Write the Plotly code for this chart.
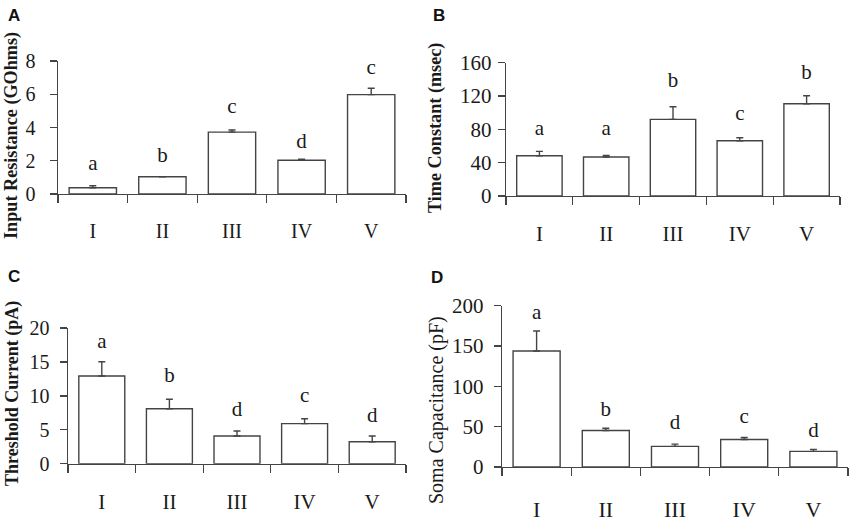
import plotly.graph_objects as go

categories = ["I", "II", "III", "IV", "V"]

# Panel A: Input Resistance (GOhms)
a_values = [0.38, 1.04, 3.72, 2.03, 5.98]
a_errors = [0.12, 0.0, 0.13, 0.06, 0.38]
a_letters = ["a", "b", "c", "d", "c"]
a_letter_y = [1.76, 2.26, 5.16, 3.06, 7.56]

# Panel B: Time Constant (msec)
b_values = [48.4, 46.8, 92.0, 66.4, 110.8]
b_errors = [5.2, 2.0, 15.2, 3.6, 9.6]
b_letters = ["a", "a", "b", "c", "b"]
b_letter_y = [79, 79, 137, 97, 147]

# Panel C: Threshold Current (pA)
c_values = [12.92, 8.1, 4.08, 5.9, 3.24]
c_errors = [2.1, 1.4, 0.75, 0.73, 0.84]
c_letters = ["a", "b", "d", "c", "d"]
c_letter_y = [17.9, 12.8, 7.8, 9.9, 6.9]

# Panel D: Soma Capacitance (pF)
d_values = [143.7, 45.2, 25.5, 34.1, 19.3]
d_errors = [24.7, 2.8, 2.8, 2.4, 2.5]
d_letters = ["a", "b", "d", "c", "d"]
d_letter_y = [190, 70, 53, 61, 44]

W, H = 850, 524
LINE = "#444444"
TXT = "#1a1a1a"
SERIF = "Liberation Serif"
SANS = "Liberation Sans"

panels = [
    dict(v=a_values, e=a_errors, l=a_letters, ly=a_letter_y, yr=[0, 8], dt=2,
         xpx=(58, 406), ypx=(61, 194), title="Input Resistance (GOhms)", tbold=True,
         tpos=(11, 136), tsize=18.2, lab="A", lpos=(6, 4), tfs=20, xfs=20, xlen=19, std=10),
    dict(v=b_values, e=b_errors, l=b_letters, ly=b_letter_y, yr=[0, 160], dt=40,
         xpx=(506, 840), ypx=(62.7, 196), title="Time Constant (msec)", tbold=True,
         tpos=(436, 128), tsize=18.2, lab="B", lpos=(431, 4), tfs=21, xfs=21, xlen=18, std=2),
    dict(v=c_values, e=c_errors, l=c_letters, ly=c_letter_y, yr=[0, 20], dt=5,
         xpx=(68, 406), ypx=(328, 463.7), title="Threshold Current (pA)", tbold=True,
         tpos=(12, 394), tsize=18, lab="C", lpos=(6, 265), tfs=20, xfs=21, xlen=19, std=6),
    dict(v=d_values, e=d_errors, l=d_letters, ly=d_letter_y, yr=[0, 200], dt=50,
         xpx=(502, 848), ypx=(305.5, 467), title="Soma Capacitance (pF)", tbold=False,
         tpos=(436, 410), tsize=20, lab="D", lpos=(429, 266), tfs=21, xfs=22, xlen=22, std=6),
]

fig = go.Figure()
layout = {}
annotations = []

for i, p in enumerate(panels, start=1):
    xa = "x" if i == 1 else f"x{i}"
    ya = "y" if i == 1 else f"y{i}"
    xkey = "xaxis" if i == 1 else f"xaxis{i}"
    ykey = "yaxis" if i == 1 else f"yaxis{i}"

    fig.add_trace(go.Bar(
        x=list(range(len(categories))), y=p["v"], width=0.68,
        marker=dict(color="white", line=dict(color=LINE, width=1.4)),
        error_y=dict(type="data", symmetric=False, array=p["e"],
                     arrayminus=[0] * len(p["e"]), color=LINE, thickness=1.4, width=3.5),
        xaxis=xa, yaxis=ya, showlegend=False, hoverinfo="skip",
    ))
    fig.add_trace(go.Scatter(
        x=list(range(len(categories))), y=p["ly"], mode="text", text=p["l"],
        textposition="middle center",
        textfont=dict(family=SERIF, size=21, color=TXT),
        xaxis=xa, yaxis=ya, showlegend=False, hoverinfo="skip",
    ))

    x0, x1 = p["xpx"]
    yt, yb = p["ypx"]
    layout[xkey] = dict(
        domain=[x0 / W, x1 / W], anchor=ya, range=[-0.5, 4.5], automargin=False,
        tickmode="array", tickvals=list(range(5)), ticktext=categories,
        ticks="outside", ticklen=p["xlen"], tickcolor="rgba(0,0,0,0)",
        minor=dict(tickmode="array", tickvals=[k - 0.5 for k in range(6)],
                   ticks="outside", ticklen=8, tickwidth=1.4, tickcolor=LINE, showgrid=False),
        showline=True, linecolor=LINE, linewidth=1.4,
        showgrid=False, zeroline=False, fixedrange=True,
        tickfont=dict(family=SERIF, size=p["xfs"], color=TXT),
    )
    layout[ykey] = dict(
        domain=[1 - yb / H, 1 - yt / H], anchor=xa, range=p["yr"], automargin=False,
        tickmode="linear", tick0=0, dtick=p["dt"],
        ticks="outside", ticklen=7, tickwidth=1.4, tickcolor=LINE,
        ticklabelstandoff=p["std"],
        showline=True, linecolor=LINE, linewidth=1.4,
        showgrid=False, zeroline=False, fixedrange=True,
        tickfont=dict(family=SERIF, size=p["tfs"], color=TXT),
    )

    title_text = f"<b>{p['title']}</b>" if p["tbold"] else p["title"]
    annotations.append(dict(
        text=title_text, textangle=-90, xref="paper", yref="paper",
        x=p["tpos"][0] / W, y=1 - p["tpos"][1] / H, xanchor="center", yanchor="middle",
        showarrow=False, font=dict(family=SERIF, size=p["tsize"], color=TXT),
    ))
    annotations.append(dict(
        text=f"<b>{p['lab']}</b>", xref="paper", yref="paper",
        x=p["lpos"][0] / W, y=1 - p["lpos"][1] / H, xanchor="left", yanchor="top",
        showarrow=False, font=dict(family=SANS, size=17, color="#111111"),
    ))

fig.update_layout(
    template="none",
    width=W, height=H, margin=dict(l=0, r=0, t=0, b=0, pad=0),
    paper_bgcolor="white", plot_bgcolor="white",
    annotations=annotations, **layout,
)

fig.write_html(
    "out.html",
    config={"displayModeBar": False, "staticPlot": True},
    post_script="document.body.style.margin='0';document.body.style.overflow='hidden';",
)
